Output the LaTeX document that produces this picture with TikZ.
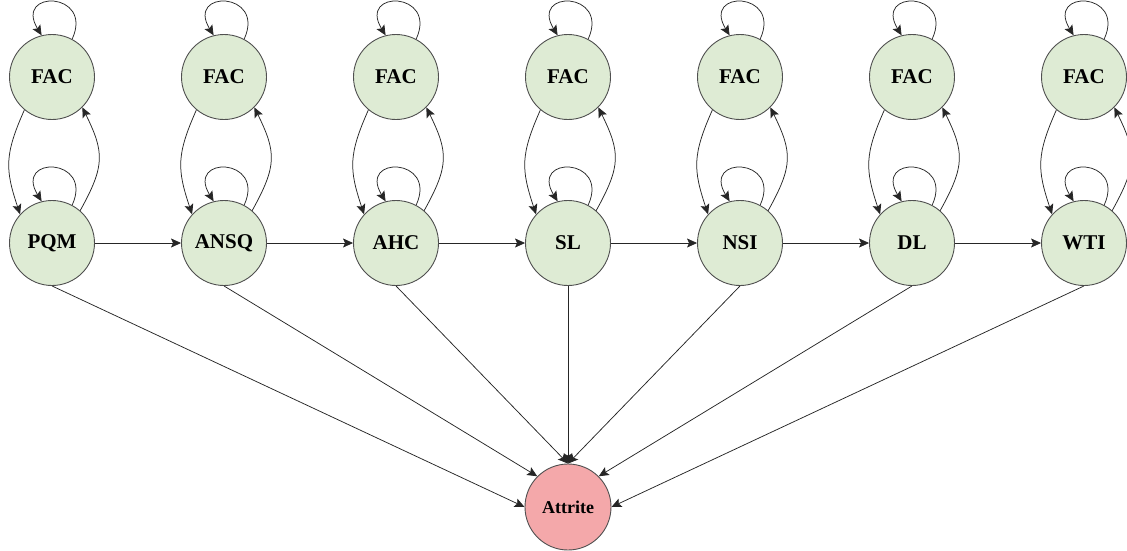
\documentclass[tikz,border=0pt]{standalone}
\usepackage{fontspec}
\setmainfont{Liberation Serif}
\usetikzlibrary{arrows.meta}
\definecolor{nodegreen}{RGB}{222,235,212}
\definecolor{nodepink}{RGB}{244,168,170}
\definecolor{rim}{RGB}{80,80,80}
\tikzset{
  state/.style={circle, draw=rim, line width=0.9pt, fill=nodegreen, minimum size=85pt, inner sep=0pt,
    font=\fontsize{21}{23}\selectfont\bfseries},
  endstate/.style={state, fill=nodepink, minimum size=86pt, font=\fontsize{18}{20}\selectfont\bfseries},
  conn/.style={-{Stealth[length=10pt,width=9pt,inset=2pt]}, line width=0.75pt, draw=black!85},
}
\begin{document}
\begin{tikzpicture}[x=1pt,y=-1pt]
\useasboundingbox (0,0) rectangle (1127,550);
\foreach \i/\lab in {0/PQM,1/ANSQ,2/AHC,3/SL,4/NSI,5/DL,6/WTI}{
  \node[state] (f\i) at ({52+172*\i},77) {FAC};
  \node[state] (b\i) at ({52+172*\i},243) {\lab};
}
\node[endstate] (att) at (568,507) {Attrite};
\foreach \i in {0,...,6}{
  \draw[conn] (f\i.62) .. controls +(22,-48) and +(-28,-46) .. (f\i.104);
  \draw[conn] (b\i.62) .. controls +(22,-48) and +(-28,-46) .. (b\i.104);
  \draw[conn] (f\i.230) .. controls +(-20,45) and +(-15,-45) .. (b\i.138);
  \draw[conn] (b\i.49) .. controls +(25,-45) and +(22,45) .. (f\i.315);
}
\foreach \i/\j in {0/1,1/2,2/3,3/4,4/5,5/6}{
  \draw[conn] (b\i.east) -- (b\j.west);
}
\draw[conn] (b0.south) -- (att.west);
\draw[conn] (b1.south) -- (att.north west);
\draw[conn] (b2.south) -- (att.north);
\draw[conn] (b3.south) -- (att.north);
\draw[conn] (b4.south) -- (att.north);
\draw[conn] (b5.south) -- (att.north east);
\draw[conn] (b6.south) -- (att.east);
\end{tikzpicture}
\end{document}
